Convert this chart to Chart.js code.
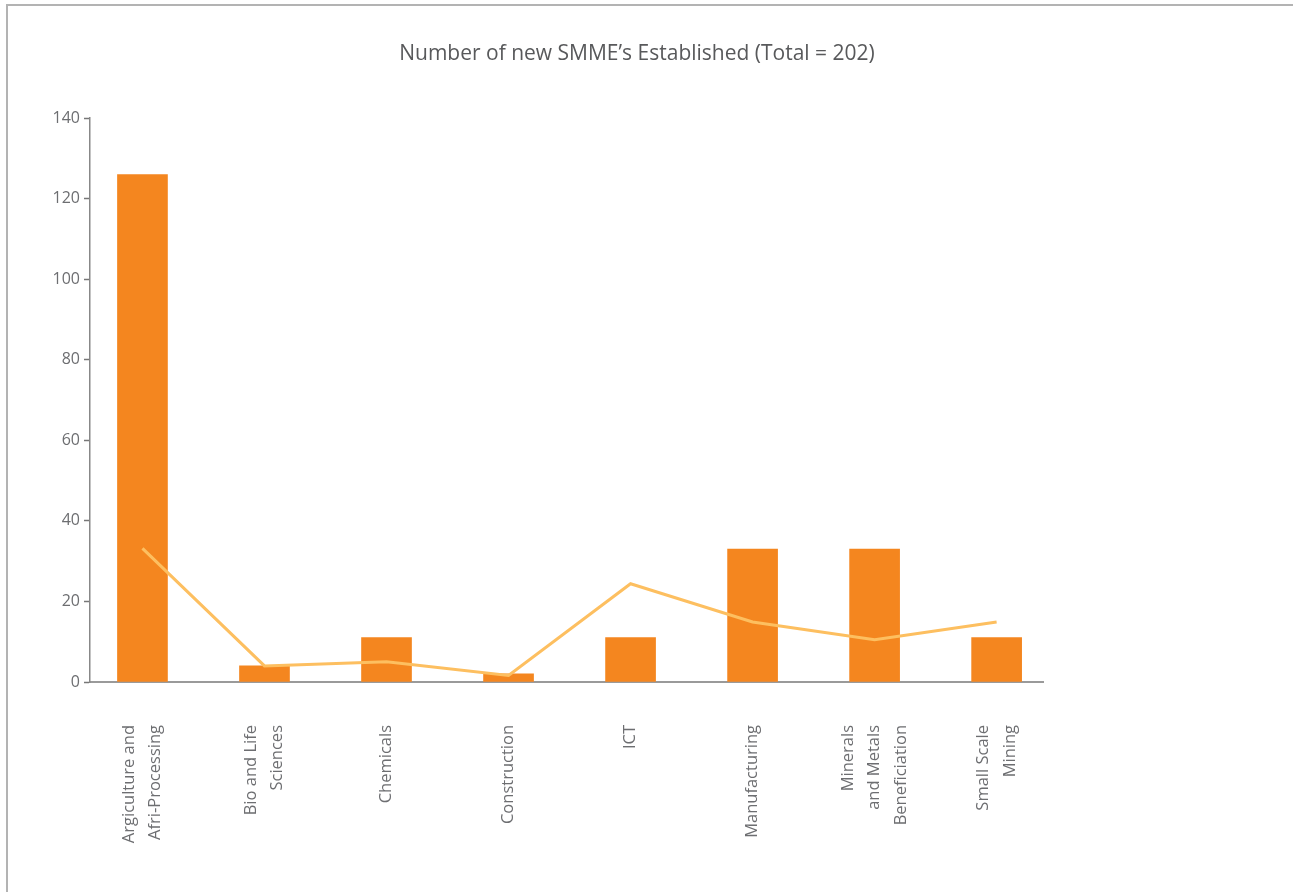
<!DOCTYPE html>
<html>
<head>
<meta charset="utf-8">
<title>New SMMEs by sector</title>
<script src="https://cdn.jsdelivr.net/npm/chart.js@4.4.0/dist/chart.umd.min.js"></script>
<style>
	html, body { margin: 0; padding: 0; background: #fff; overflow: hidden; }
	#frame {
		position: absolute; left: 6px; top: 4px; width: 1400px; height: 1000px;
		border-left: 2px solid #b3b3b3; border-top: 2px solid #b3b3b3;
	}
	#chart { position: absolute; left: 0; top: 0; }
</style>
</head>
<body>
<div id="frame"></div>
<canvas id="chart" width="1293" height="892"></canvas>
<script>
const sectors = [
	['Argiculture and', 'Afri-Processing'],
	['Bio and Life', 'Sciences'],
	['Chemicals'],
	['Construction'],
	['ICT'],
	['Manufacturing'],
	['Minerals', 'and Metals', 'Beneficiation'],
	['Small Scale', 'Mining']
];
const smmeCounts = [126, 4, 11, 2, 11, 33, 33, 11];
const lineValues = [33.2, 4.0, 5.0, 1.6, 24.4, 14.9, 10.5, 14.9];
const yTicks = [0, 20, 40, 60, 80, 100, 120, 140];

const TEXT = '#6d6e71';
const FONT = "'Open Sans', 'Noto Sans', sans-serif";

// Sector names sit under the axis, rotated, each block centred on its bar
const sectorLabels = {
	id: 'sectorLabels',
	afterDraw(chart) {
		const {ctx, scales: {x}} = chart;
		const lh = 26.5;
		const top = chart.chartArea.bottom + 43;
		ctx.save();
		ctx.fillStyle = TEXT;
		ctx.font = `16.5px ${FONT}`;
		ctx.textAlign = 'right';
		ctx.textBaseline = 'middle';
		sectors.forEach((lines, i) => {
			const cx = x.getPixelForValue(i);
			lines.forEach((line, j) => {
				ctx.save();
				ctx.translate(cx + (j - (lines.length - 1) / 2) * lh, top);
				ctx.rotate(-Math.PI / 2);
				ctx.fillText(line, 0, 0);
				ctx.restore();
			});
		});
		ctx.restore();
	}
};

new Chart(document.getElementById('chart'), {
	type: 'bar',
	data: {
		datasets: [{
			type: 'line',
			data: lineValues.map((v, i) => ({x: i, y: v})),
			borderColor: '#fdbf60',
			borderWidth: 3,
			pointRadius: 0,
			tension: 0,
			order: 0
		}, {
			type: 'bar',
			data: smmeCounts.map((v, i) => ({x: i, y: v})),
			backgroundColor: '#f4861f',
			barThickness: 50,
			order: 1
		}]
	},
	options: {
		responsive: false,
		animation: false,
		devicePixelRatio: 1,
		layout: {padding: {left: 0, right: 19, top: 0, bottom: 0}},
		plugins: {
			legend: {display: false},
			tooltip: {enabled: false},
			title: {
				display: true,
				text: 'Number of new SMME’s Established (Total = 202)',
				color: '#58595b',
				font: {family: FONT, size: 21, weight: 'normal', lineHeight: 1.2},
				padding: {top: 41, bottom: 52}
			}
		},
		scales: {
			x: {
				type: 'linear',
				position: 'bottom',
				offset: false,
				min: -0.43,
				max: 7.38,
				ticks: {display: false},
				grid: {display: true, offset: false, drawOnChartArea: false, drawTicks: false},
				border: {display: true, color: '#9a9a9a', width: 2},
				afterFit(scale) { scale.height = 210; }
			},
			y: {
				position: 'left',
				min: 0,
				max: 140,
				afterBuildTicks(scale) { scale.ticks = yTicks.map(v => ({value: v})); },
				ticks: {color: TEXT, padding: 4, font: {family: FONT, size: 16}},
				grid: {
					drawOnChartArea: false,
					tickLength: 6,
					tickColor: '#777',
					tickWidth: 1.5
				},
				border: {display: true, color: '#888', width: 1.5},
				afterFit(scale) { scale.width = 90; }
			},
			// empty strip on the right so the plot ends before the page edge
			pad: {
				type: 'linear',
				position: 'right',
				ticks: {display: false},
				grid: {display: false},
				border: {display: false},
				afterFit(scale) { scale.width = 231; }
			}
		}
	},
	plugins: [sectorLabels]
});
</script>
</body>
</html>
